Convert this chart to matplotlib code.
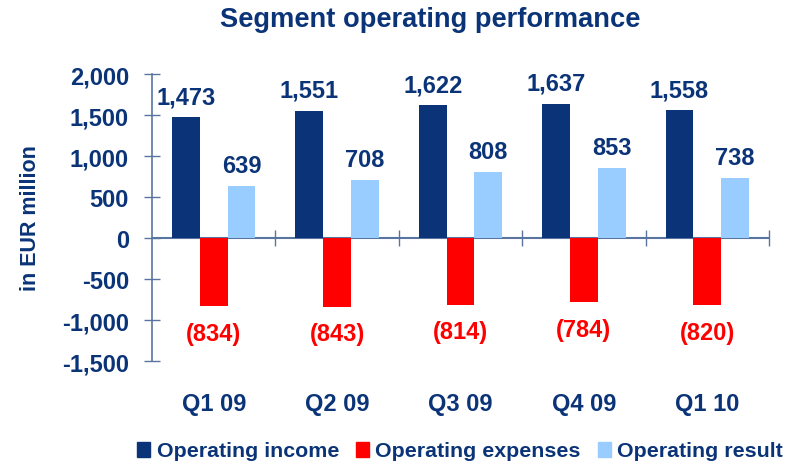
import numpy as np
import matplotlib
matplotlib.use('Agg')
import matplotlib.pyplot as plt
from matplotlib.patches import Patch

# Данные
quarters = ['Q1 09', 'Q2 09', 'Q3 09', 'Q4 09', 'Q1 10']
income = [1473, 1551, 1622, 1637, 1558]
expenses = [-834, -843, -814, -784, -820]
result = [639, 708, 808, 853, 738]

navy = '#0B3478'
red = '#FF0000'
light = '#99CCFF'
axis_col = '#5A74A0'

plt.rcParams['font.family'] = ['Liberation Sans', 'DejaVu Sans']
plt.rcParams['font.weight'] = 'bold'

fig = plt.figure(figsize=(7.91, 4.64), dpi=100)
ax = fig.add_axes([0.1922, 0.2198, 0.78, 0.6185])

x = np.arange(len(quarters))
w = 0.225
ax.bar(x - w, income, w, color=navy)
ax.bar(x, expenses, w, color=red)
ax.bar(x + w, result, w, color=light)

# Подписи значений
for i in range(len(quarters)):
    ax.annotate(f'{income[i]:,}', (x[i] - w, income[i]), xytext=(0, 10),
                textcoords='offset points', ha='center', va='baseline',
                fontsize=17, fontweight='bold', color=navy)
    ax.annotate(f'{result[i]:,}', (x[i] + w, result[i]), xytext=(0, 10),
                textcoords='offset points', ha='center', va='baseline',
                fontsize=17, fontweight='bold', color=navy)
    ax.annotate(f'({-expenses[i]:,})', (x[i], expenses[i]), xytext=(0, -11),
                textcoords='offset points', ha='center', va='top',
                fontsize=17, fontweight='bold', color=red)

ax.set_xlim(-0.5, len(quarters) - 0.5)
ax.set_ylim(-1500, 2000)
ax.set_yticks(np.arange(-1500, 2001, 500))
ax.yaxis.set_major_formatter(matplotlib.ticker.FuncFormatter(lambda v, p: f'{int(v):,}'))
ax.tick_params(axis='y', direction='inout', length=11, width=1, color=axis_col,
               labelsize=17, labelcolor=navy, pad=11)
ax.set_xticks(x)
ax.set_xticklabels(quarters)
ax.tick_params(axis='x', length=0, labelsize=17, labelcolor=navy, pad=22)

for s in ['top', 'right', 'bottom']:
    ax.spines[s].set_visible(False)
ax.spines['left'].set_color(axis_col)
ax.spines['left'].set_linewidth(1.2)

# Нулевая линия с делениями между группами
ax.axhline(0, color=axis_col, lw=1.5, zorder=0.5)
sec = ax.secondary_xaxis(1500 / 3500)
sec.set_xticks(np.arange(0.5, len(quarters), 1.0))
sec.tick_params(direction='inout', length=12, width=1, color=axis_col, labelbottom=False, labeltop=False)
sec.spines['bottom'].set_visible(False)
sec.spines['top'].set_visible(False)

ax.set_ylabel('in EUR million', fontsize=15.5, fontweight='bold', color=navy)
ax.yaxis.set_label_coords(-0.18, 0.5)

fig.text(430 / 791, 1 - 20 / 464, 'Segment operating performance', ha='center', va='center',
         fontsize=19.6, fontweight='bold', color=navy)

handles = [Patch(color=navy), Patch(color=red), Patch(color=light)]
labels = ['Operating income', 'Operating expenses', 'Operating result']
fig.legend(handles, labels, loc='center', bbox_to_anchor=(460 / 791, 1 - 452 / 464), ncol=3,
           frameon=False, prop={'size': 15.4, 'weight': 'bold'}, labelcolor=navy,
           handlelength=0.6, handleheight=0.7, handletextpad=0.3, columnspacing=0.8,
           borderaxespad=0, borderpad=0)

fig.savefig('out.png', dpi=100)
